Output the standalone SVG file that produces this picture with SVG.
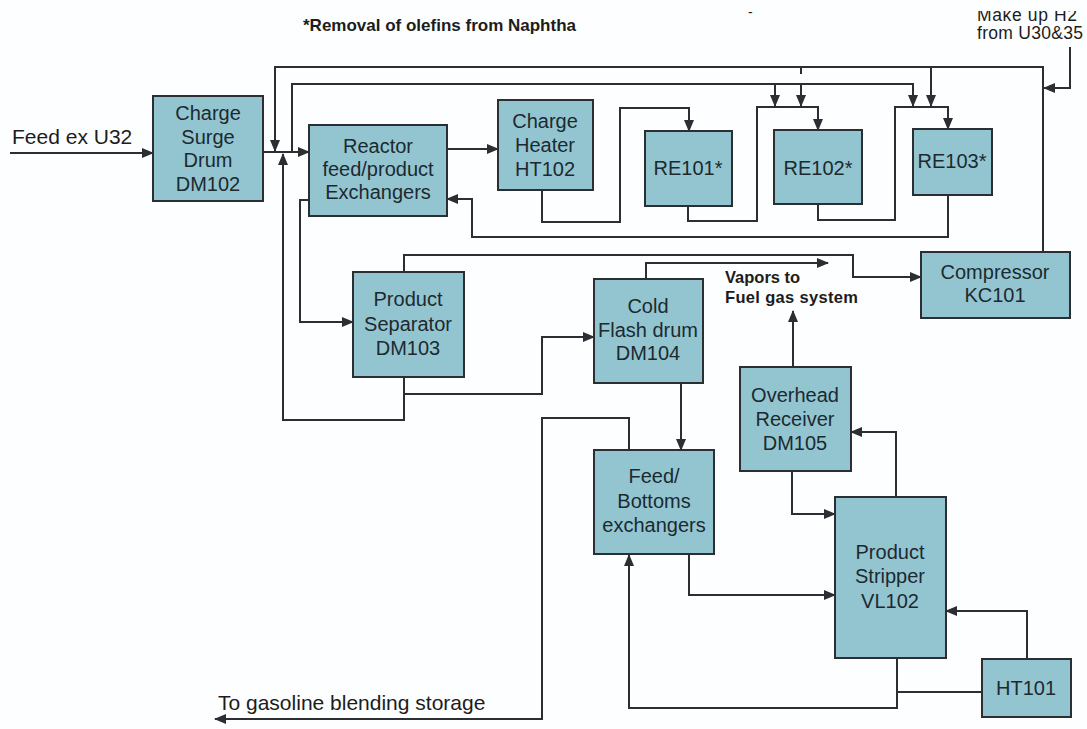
<svg xmlns="http://www.w3.org/2000/svg" width="1087" height="729" viewBox="0 0 1087 729">
<style>
.box{fill:#93c5d0;stroke:#2b2f33;stroke-width:2}
.t{font-family:"Liberation Sans",Arial,sans-serif;font-size:20px;fill:#1c2a30;text-anchor:middle}
.lbl{font-family:"Liberation Sans",Arial,sans-serif;fill:#1c1c1c}
.c{fill:none;stroke:#2b2f33;stroke-width:2}
</style>
<defs>
<marker id="ah" markerUnits="userSpaceOnUse" markerWidth="12" markerHeight="10" refX="11" refY="5" orient="auto">
<path d="M0,0 L12,5 L0,10 z" fill="#2b2f33"/>
</marker>
<clipPath id="clipTop"><rect x="0" y="11" width="1087" height="718"/></clipPath>
</defs>
<rect width="1087" height="729" fill="#fdfeff"/>

<g id="labels">
<text class="lbl" x="303" y="31" font-size="17" font-weight="bold">*Removal of olefins from Naphtha</text>
<text class="lbl" x="748" y="17" font-size="14">-</text>
<g clip-path="url(#clipTop)">
<text class="lbl" x="977" y="21" font-size="17.5" textLength="100">Make up H2</text>
</g>
<text class="lbl" x="977" y="39" font-size="17.5" textLength="106">from U30&amp;35</text>
<text class="lbl" x="12" y="144" font-size="21">Feed ex U32</text>
<text class="lbl" x="725" y="283" font-size="16.5" font-weight="bold">Vapors to</text>
<text class="lbl" x="725" y="303" font-size="16.5" font-weight="bold" textLength="133">Fuel gas system</text>
<text class="lbl" x="218" y="710" font-size="21">To gasoline blending storage</text>
</g>

<g id="connectors">
<path class="c" d="M10,153 L153,153" marker-end="url(#ah)"/>
<path class="c" d="M263,152 L309,152" marker-end="url(#ah)"/>
<path class="c" d="M1043,252 L1043,67 L275,67 L275,151" marker-end="url(#ah)"/>
<path class="c" d="M931,67 L931,106" marker-end="url(#ah)"/>
<path class="c" d="M801,67 L801,74"/>
<path class="c" d="M1070,47 L1070,88 L1044,88" marker-end="url(#ah)"/>
<path class="c" d="M292,152 L292,84 L913,84 L913,106" marker-end="url(#ah)"/>
<path class="c" d="M775,84 L775,106" marker-end="url(#ah)"/>
<path class="c" d="M801,84 L801,106" marker-end="url(#ah)"/>
<path class="c" d="M447,149 L498,149" marker-end="url(#ah)"/>
<path class="c" d="M542,190 L542,222 L620,222 L620,108 L689,108 L689,131" marker-end="url(#ah)"/>
<path class="c" d="M688,206 L688,221 L757,221 L757,107 L818,107 L818,130" marker-end="url(#ah)"/>
<path class="c" d="M818,204 L818,220 L895,220 L895,107 L948,107 L948,129" marker-end="url(#ah)"/>
<path class="c" d="M948,195 L948,237 L472,237 L472,199 L447,199" marker-end="url(#ah)"/>
<path class="c" d="M309,200 L300,200 L300,322 L353,322" marker-end="url(#ah)"/>
<path class="c" d="M404,377 L404,420 L283,420 L283,154" marker-end="url(#ah)"/>
<path class="c" d="M404,394 L542,394 L542,337 L594,337" marker-end="url(#ah)"/>
<path class="c" d="M404,272 L404,255 L853,255 L853,277 L921,277" marker-end="url(#ah)"/>
<path class="c" d="M646,279 L646,263 L828,263" marker-end="url(#ah)"/>
<path class="c" d="M681,383 L681,450" marker-end="url(#ah)"/>
<path class="c" d="M793,367 L793,311" marker-end="url(#ah)"/>
<path class="c" d="M629,450 L629,418 L542,418 L542,719 L215,719" marker-end="url(#ah)"/>
<path class="c" d="M689,554 L689,595 L835,595" marker-end="url(#ah)"/>
<path class="c" d="M897,658 L897,708 L629,708 L629,555" marker-end="url(#ah)"/>
<path class="c" d="M982,692 L897,692"/>
<path class="c" d="M1027,659 L1027,611 L946,611" marker-end="url(#ah)"/>
<path class="c" d="M896,497 L896,432 L851,432" marker-end="url(#ah)"/>
<path class="c" d="M792,471 L792,514 L835,514" marker-end="url(#ah)"/>
</g>

<g id="DM102">
<rect class="box" x="153" y="96" width="110" height="105"/>
<text class="t" x="208" y="120">Charge</text>
<text class="t" x="208" y="144">Surge</text>
<text class="t" x="208" y="167">Drum</text>
<text class="t" x="208" y="191">DM102</text>
</g>
<g id="reactor_exchangers">
<rect class="box" x="309" y="125" width="138" height="91"/>
<text class="t" x="378" y="153">Reactor</text>
<text class="t" x="378" y="176">feed/product</text>
<text class="t" x="378" y="199">Exchangers</text>
</g>
<g id="HT102">
<rect class="box" x="498" y="100" width="95" height="90"/>
<text class="t" x="545" y="128">Charge</text>
<text class="t" x="545" y="152">Heater</text>
<text class="t" x="545" y="176">HT102</text>
</g>
<g id="RE101">
<rect class="box" x="645" y="131" width="87" height="75"/>
<text class="t" x="688" y="175">RE101*</text>
</g>
<g id="RE102">
<rect class="box" x="774" y="130" width="88" height="74"/>
<text class="t" x="818" y="175">RE102*</text>
</g>
<g id="RE103">
<rect class="box" x="913" y="129" width="79" height="66"/>
<text class="t" x="952" y="168">RE103*</text>
</g>
<g id="DM103">
<rect class="box" x="353" y="272" width="111" height="105"/>
<text class="t" x="408" y="306">Product</text>
<text class="t" x="408" y="331">Separator</text>
<text class="t" x="408" y="355">DM103</text>
</g>
<g id="DM104">
<rect class="box" x="594" y="279" width="109" height="104"/>
<text class="t" x="648" y="313">Cold</text>
<text class="t" x="648" y="337">Flash drum</text>
<text class="t" x="648" y="360">DM104</text>
</g>
<g id="KC101">
<rect class="box" x="921" y="252" width="149" height="66"/>
<text class="t" x="995" y="279">Compressor</text>
<text class="t" x="995" y="302">KC101</text>
</g>
<g id="DM105">
<rect class="box" x="740" y="367" width="111" height="104"/>
<text class="t" x="795" y="402">Overhead</text>
<text class="t" x="795" y="426">Receiver</text>
<text class="t" x="795" y="450">DM105</text>
</g>
<g id="feed_bottoms">
<rect class="box" x="594" y="450" width="120" height="104"/>
<text class="t" x="654" y="483">Feed/</text>
<text class="t" x="654" y="508">Bottoms</text>
<text class="t" x="654" y="532">exchangers</text>
</g>
<g id="VL102">
<rect class="box" x="835" y="497" width="111" height="161"/>
<text class="t" x="890" y="559">Product</text>
<text class="t" x="890" y="583">Stripper</text>
<text class="t" x="890" y="608">VL102</text>
</g>
<g id="HT101">
<rect class="box" x="982" y="659" width="89" height="58"/>
<text class="t" x="1026" y="695">HT101</text>
</g>
</svg>
